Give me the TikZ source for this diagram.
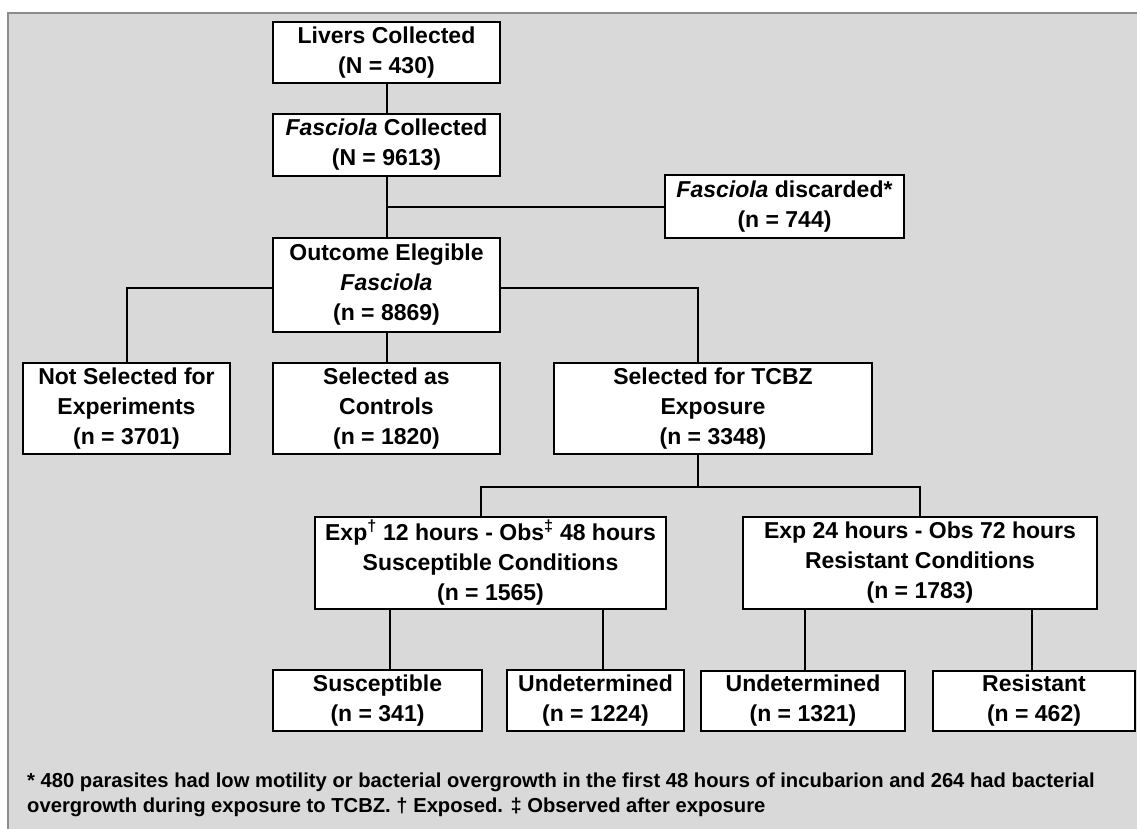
\documentclass[tikz,border=0pt]{standalone}
\usepackage{fontspec}
\setmainfont{Liberation Sans}
\usepackage{tikz}
\definecolor{panel}{HTML}{D9D9D9}
\definecolor{frame}{HTML}{8C8C8C}

\begin{document}
\begin{tikzpicture}[
  x=1pt,y=-1pt,
  font=\bfseries\fontsize{23}{30}\selectfont,
  box/.style n args={2}{draw=black,fill=white,line width=2pt,inner sep=0pt,align=center,
    minimum width=#1pt,minimum height=#2pt},
  link/.style={draw=black,line width=2pt},
  note/.style={font=\bfseries\fontsize{20.2}{25}\selectfont,align=left,inner sep=0pt,anchor=north west},
]
\useasboundingbox (0,0) rectangle (1137,829);
\fill[panel] (8,13) rectangle (1150,840);
\draw[frame,line width=2pt] (8,840) -- (8,13) -- (1150,13);

% boxes
\node[box={227}{61}] (livers) at (386.5,52.5) {Livers Collected\\(N = 430)};
\node[box={227}{62}] (fcoll) at (386.5,145) {\textit{Fasciola} Collected\\(N = 9613)};
\node[box={239}{63}] (disc) at (784.5,206.5) {\textit{Fasciola} discarded*\\(n = 744)};
\node[box={227}{94}] (elig) at (386.5,285) {Outcome Elegible\\\textit{Fasciola}\\(n = 8869)};
\node[box={207}{91}] (notsel) at (126.5,408.5) {Not Selected for\\Experiments\\(n = 3701)};
\node[box={227}{91}] (ctrl) at (386.5,408.5) {Selected as\\Controls\\(n = 1820)};
\node[box={318}{91}] (tcbz) at (713,408.5) {Selected for TCBZ\\Exposure\\(n = 3348)};
\node[box={351}{92}] (exp12) at (490.5,563) {Exp\textsuperscript{†} 12 hours - Obs\textsuperscript{‡} 48 hours\\Susceptible Conditions\\(n = 1565)};
\node[box={354}{92}] (exp24) at (920,563) {Exp 24 hours - Obs 72 hours\\Resistant Conditions\\(n = 1783)};
\node[box={209}{61}] (susc) at (377.5,700.5) {Susceptible\\(n = 341)};
\node[box={177}{61}] (und1) at (595.5,700.5) {Undetermined\\(n = 1224)};
\node[box={204}{60}] (und2) at (803,701) {Undetermined\\(n = 1321)};
\node[box={202}{60}] (resist) at (1034,701) {Resistant\\(n = 462)};

% connectors
\draw[link] (livers) -- (fcoll);
\draw[link] (fcoll) -- (elig);
\draw[link] (disc.west) -- (disc.west -| fcoll.south);
\draw[link] ([yshift=-3pt]elig.west) -| (notsel.north);
\draw[link] ([yshift=-3pt]elig.east) -| ([xshift=-15pt]tcbz.north);
\draw[link] (elig) -- (ctrl);
\draw[link] ([xshift=-15pt]tcbz.south) -- ++(0,32) coordinate (split);
\draw[link] ([xshift=-9.5pt]exp12.north) |- (split) -| (exp24.north);
\draw[link] ([xshift=12pt]susc.north) -- ([xshift=12pt]susc.north |- exp12.south);
\draw[link] ([xshift=7.5pt]und1.north) -- ([xshift=7.5pt]und1.north |- exp12.south);
\draw[link] ([xshift=2pt]und2.north) -- ([xshift=2pt]und2.north |- exp24.south);
\draw[link] ([xshift=-2pt]resist.north) -- ([xshift=-2pt]resist.north |- exp24.south);

% footnote
\node[note] (fn) at (27,773) {* 480 parasites had low motility or bacterial overgrowth in the first 48 hours of incubarion and 264 had bacterial\\
overgrowth during exposure to TCBZ. † Exposed. ‡ Observed after exposure};
\end{tikzpicture}
\end{document}
